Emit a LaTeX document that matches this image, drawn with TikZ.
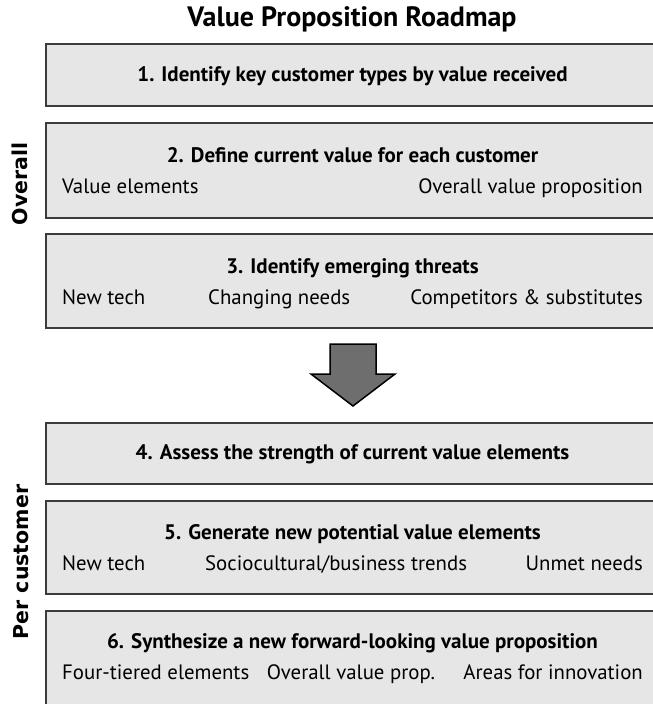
\documentclass[tikz,border=0pt]{standalone}
\usepackage{fontspec}
\setmainfont{PT Sans}
\newfontfamily\sidefont{DejaVu Sans}
\definecolor{boxfill}{HTML}{E6E6E6}
\definecolor{boxline}{HTML}{3C3C3C}
\definecolor{arrowfill}{HTML}{6E6E6E}
\begin{document}
\begin{tikzpicture}[x=1pt,y=-1pt,
  stage/.style={draw=boxline, line width=1.5pt, fill=boxfill, minimum width=615pt, inner sep=0pt, anchor=north west},
  head/.style={font=\bfseries\fontsize{21}{25}\selectfont, anchor=base, inner sep=0pt},
  sub/.style={font=\fontsize{20.8}{25}\selectfont, anchor=base, inner sep=0pt},
  side/.style={font=\sidefont\bfseries\fontsize{20.5}{24}\selectfont, rotate=90, inner sep=0pt},
  bigarrow/.style={draw=black, line width=1.5pt, fill=arrowfill, line join=miter}]
\useasboundingbox (0,0) rectangle (653,704);
% title
\node[font=\bfseries\fontsize{28}{32}\selectfont, anchor=base, inner sep=0pt] (title) at (352,26) {Value Proposition Roadmap};
% boxes
\node[stage, minimum height=62pt] (b1) at (45,43) {};
\node[stage, minimum height=95pt] (b2) at (45,122) {};
\node[stage, minimum height=94pt] (b3) at (45,233) {};
\node[stage, minimum height=61pt] (b4) at (45,422) {};
\node[stage, minimum height=93pt] (b5) at (45,500) {};
\node[stage, minimum height=100pt] (b6) at (45,610) {};
% box 1
\node[head] (h1) at (352.5,81) {1. Identify key customer types by value received};
% box 2
\node[head] (h2) at (352.5,162) {2. Define current value for each customer};
\node[sub, anchor=base west] (s21) at (62,193) {Value elements};
\node[sub, anchor=base east] (s22) at (643,193) {Overall value proposition};
% box 3
\node[head] (h3) at (352.5,273) {3. Identify emerging threats};
\node[sub, anchor=base west] (s31) at (62,304) {New tech};
\node[sub, anchor=base west] (s32) at (208,304) {Changing needs};
\node[sub, anchor=base east] (s33) at (643,304) {Competitors \& substitutes};
% arrow
\draw[bigarrow] (330,344) -- (376,344) -- (376,374) -- (395,374) -- (353,406) -- (311,374) -- (330,374) -- cycle;
% box 4
\node[head] (h4) at (352.5,459) {4. Assess the strength of current value elements};
% box 5
\node[head] (h5) at (352.5,539) {5. Generate new potential value elements};
\node[sub, anchor=base west] (s51) at (62,570) {New tech};
\node[sub, anchor=base west] (s52) at (205,570) {Sociocultural/business trends};
\node[sub, anchor=base east] (s53) at (643,570) {Unmet needs};
% box 6
\node[head] (h6) at (352.5,648) {6. Synthesize a new forward-looking value proposition};
\node[sub, anchor=base west] (s61) at (62,679) {Four-tiered elements};
\node[sub] (s62) at (351,679) {Overall value prop.};
\node[sub, anchor=base east] (s63) at (643,679) {Areas for innovation};
% side labels
\node[side] (overall) at (20,184) {Overall};
\node[side] (percust) at (21,562) {Per customer};
\end{tikzpicture}
\end{document}
